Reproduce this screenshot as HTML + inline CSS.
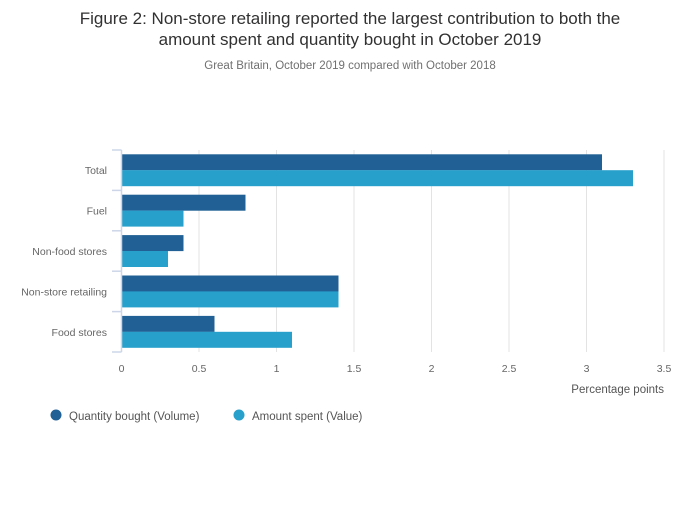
<!DOCTYPE html>
<html><head><meta charset="utf-8"><style>
body{margin:0;background:#fff;font-family:"Liberation Sans",sans-serif;}
svg text{font-family:"Liberation Sans",sans-serif;}
</style></head><body>
<svg id="c" width="700" height="502" xmlns="http://www.w3.org/2000/svg">
<text x="350" y="24" text-anchor="middle" font-size="17" fill="#323132">Figure 2: Non-store retailing reported the largest contribution to both the</text>
<text x="350" y="45" text-anchor="middle" font-size="17" fill="#323132">amount spent and quantity bought in October 2019</text>
<text x="350" y="69" text-anchor="middle" font-size="11.5" fill="#707070">Great Britain, October 2019 compared with October 2018</text>
<g id="grid"></g><g id="bars"></g><g id="axes"></g>
<text x="664" y="393" text-anchor="end" font-size="11.5" fill="#555">Percentage points</text>
<g>
<circle cx="56" cy="415" r="5.5" fill="#206095"/>
<text x="69" y="420" font-size="11.5" fill="#555">Quantity bought (Volume)</text>
<circle cx="239" cy="415" r="5.5" fill="#27a0cc"/>
<text x="252" y="420" font-size="11.5" fill="#555">Amount spent (Value)</text>
</g>
</svg>
<script>
const categories=["Total","Fuel","Non-food stores","Non-store retailing","Food stores"];
const volume=[3.1,0.8,0.4,1.4,0.6];
const value=[3.3,0.4,0.3,1.4,1.1];
const ticks=[0,0.5,1,1.5,2,2.5,3,3.5];
const tickLabels=["0","0.5","1","1.5","2","2.5","3","3.5"];
const NS="http://www.w3.org/2000/svg";
const x0=121.5,x1=664,yTop=150,yBot=352;
const xs=v=>x0+(v/3.5)*(x1-x0);
const band=(yBot-yTop)/categories.length;
function mk(t,a,p){const e=document.createElementNS(NS,t);for(const k in a)e.setAttribute(k,a[k]);p.appendChild(e);return e;}
const grid=document.getElementById('grid'),bars=document.getElementById('bars'),axes=document.getElementById('axes');
ticks.forEach((t,i)=>{
 if(i>0){const l=mk('line',{x1:xs(t),x2:xs(t),y1:yTop,y2:yBot,stroke:'#e3e3e3'},grid);
 
 }
 const tx=mk('text',{x:xs(t),y:372,'text-anchor':'middle','font-size':'10.5',fill:'#666'},axes);tx.textContent=tickLabels[i];
 
 
});
const ax=mk('line',{x1:x0,x2:x0,y1:yTop,y2:yBot,stroke:'#ccd6e8','stroke-width':1.5},axes);


for(let i=0;i<=categories.length;i++){const y=yTop+i*band;const tk=mk('line',{x1:112,x2:x0,y1:y,y2:y,stroke:'#ccd6e8','stroke-width':1.5},axes);
 
 }
categories.forEach((c,i)=>{
 const y=yTop+i*band;
 const t=mk('text',{x:107,y:y+band/2+4,'text-anchor':'end','font-size':'10.5',fill:'#666'},axes);t.textContent=c;
 
 
 const b1=mk('rect',{x:x0,y:y+4.3,width:xs(volume[i])-x0,height:16,fill:'#206095'},bars);
 
 
 const b2=mk('rect',{x:x0,y:y+20.2,width:xs(value[i])-x0,height:16,fill:'#27a0cc'},bars);
 
 
});
</script>
</body></html>
